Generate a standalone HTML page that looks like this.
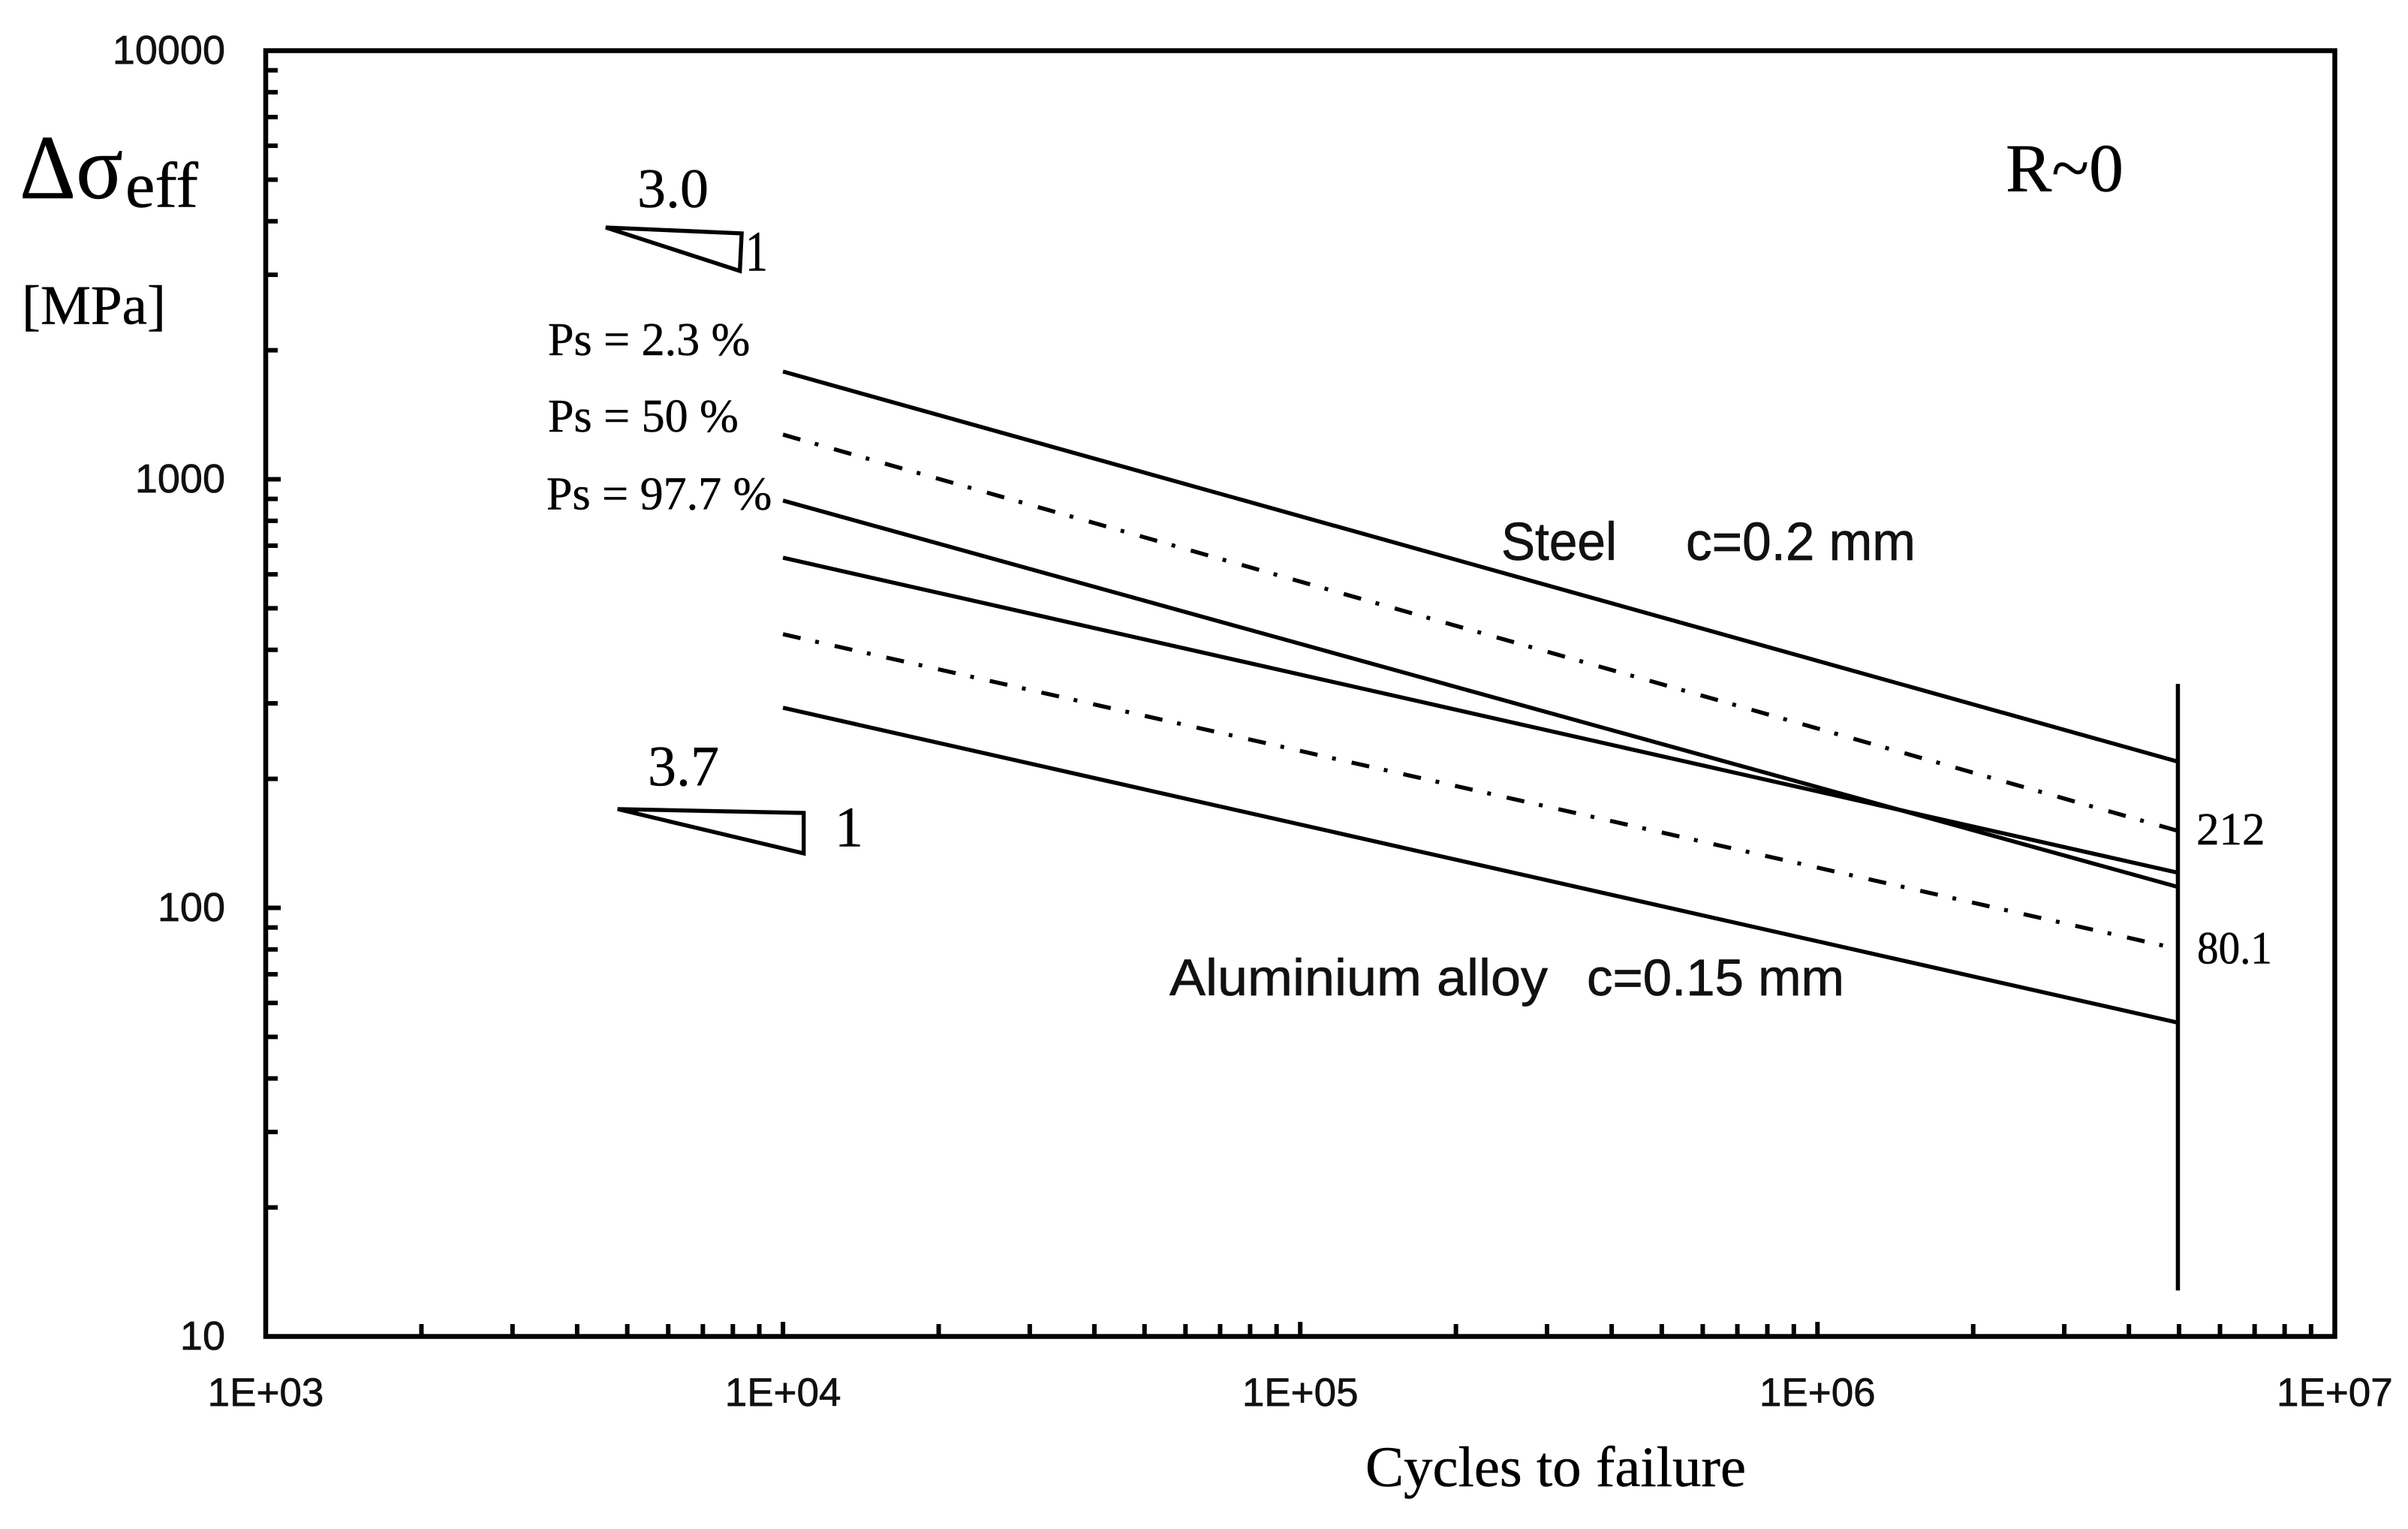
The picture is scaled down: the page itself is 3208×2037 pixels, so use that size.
<!DOCTYPE html>
<html lang="en">
<head>
<meta charset="utf-8">
<title>S-N curves: effective stress range vs cycles to failure</title>
<style>
  html, body { margin: 0; padding: 0; background: #fff; }
  svg { display: block; }
  .sans { font-family: "Liberation Sans", sans-serif; fill: #111; stroke: #111; stroke-width: 0.7px; }
  .serif { font-family: "Liberation Serif", serif; fill: #000; stroke: #000; stroke-width: 0.5px; }
</style>
</head>
<body>
<svg id="chart" xmlns="http://www.w3.org/2000/svg" width="3208" height="2037" viewBox="0 0 3208 2037">
  <rect x="0" y="0" width="3208" height="2037" fill="#fff"/>
  <g id="marks"></g>
  <g id="ticks"></g>
  <rect x="354" y="67.5" width="2756.5" height="1713" fill="none" stroke="#000" stroke-width="6.5"/>
  <g id="labels"></g>

  <text class="serif" x="26" y="264" font-size="122" textLength="138" lengthAdjust="spacingAndGlyphs">Δσ</text>
  <text class="serif" x="167" y="275.5" font-size="86" textLength="97" lengthAdjust="spacingAndGlyphs">eff</text>
  <text class="serif" x="29" y="431.5" font-size="74" textLength="192" lengthAdjust="spacingAndGlyphs">[MPa]</text>
  <text class="serif" x="1819" y="1980" font-size="76" textLength="507" lengthAdjust="spacingAndGlyphs">Cycles to failure</text>
  <text class="serif" x="2672" y="254.5" font-size="91" textLength="157" lengthAdjust="spacingAndGlyphs">R~0</text>

  <text class="serif" x="849" y="276" font-size="74" textLength="95" lengthAdjust="spacingAndGlyphs">3.0</text>
  <text class="serif" x="993" y="360.5" font-size="76" textLength="30" lengthAdjust="spacingAndGlyphs">1</text>
  <text class="serif" x="863" y="1046.5" font-size="76" textLength="95" lengthAdjust="spacingAndGlyphs">3.7</text>
  <text class="serif" x="1112" y="1127.5" font-size="76">1</text>

  <text class="serif" x="730" y="473" font-size="62">Ps = 2.3 %</text>
  <text class="serif" x="730" y="575" font-size="62">Ps = 50 %</text>
  <text class="serif" x="728" y="678.5" font-size="62">Ps = 97.7 %</text>

  <text class="serif" x="2926" y="1125" font-size="61">212</text>
  <text class="serif" x="2927" y="1283.5" font-size="61" textLength="100" lengthAdjust="spacingAndGlyphs">80.1</text>

  <text class="sans" x="2000" y="746" font-size="71" textLength="154" lengthAdjust="spacingAndGlyphs">Steel</text>
  <text class="sans" x="2246" y="746" font-size="71" textLength="306" lengthAdjust="spacingAndGlyphs">c=0.2 mm</text>
  <text class="sans" x="1558" y="1326" font-size="69" textLength="504" lengthAdjust="spacingAndGlyphs">Aluminium alloy</text>
  <text class="sans" x="2114" y="1326" font-size="69" textLength="343" lengthAdjust="spacingAndGlyphs">c=0.15 mm</text>
</svg>

<script>
const cycleRange = [10000, 5000000];
const steelPs2 = [1784, 219];
const steelPs50 = [1271, 151];
const steelPs98 = [892, 111.7];
const alloyPs2 = [656, 120.6];
const alloyPs50 = [435, 80.1];
const alloyPs98 = [293, 53.9];
const limitLineCycles = [5000000, 5000000];
const limitLineStress = [333, 12.8];
const steelTriangleCycles = [4544, 8320, 8253];
const steelTriangleStress = [3868, 3747, 3062];
const alloyTriangleCycles = [4790, 10966, 10966];
const alloyTriangleStress = [170, 166.5, 134];
const xDecades = [1000, 10000, 100000, 1000000, 10000000];
const xTickLabels = ['1E+03', '1E+04', '1E+05', '1E+06', '1E+07'];
const yDecades = [10, 100, 1000, 10000];
const yTickLabels = ['10', '100', '1000', '10000'];
const minorMultiples = [2, 3, 4, 5, 6, 7, 8, 9];

const NS = 'http://www.w3.org/2000/svg';
const xScale = function (v) { return 354 + (Math.log10(v) - 3) * 689.1; };
const yScale = function (v) { return 1780.5 - (Math.log10(v) - 1) * 571; };

const marks = document.getElementById('marks');
const ticks = document.getElementById('ticks');
const labels = document.getElementById('labels');

function drawSeries(name, values, dashed) {
  const el = document.createElementNS(NS, 'line');
  
  
  el.setAttribute('x1', xScale(cycleRange[0]));
  el.setAttribute('y1', yScale(values[0]));
  el.setAttribute('x2', xScale(cycleRange[1]));
  el.setAttribute('y2', yScale(values[1]));
  el.setAttribute('stroke', '#000');
  el.setAttribute('stroke-width', '5.4');
  if (dashed) { el.setAttribute('stroke-dasharray', '24 20 5 21.6'); }
  marks.appendChild(el);
}

drawSeries('steel-ps-2-3-line', steelPs2, false);
drawSeries('steel-ps-50-line', steelPs50, true);
drawSeries('steel-ps-97-7-line', steelPs98, false);
drawSeries('aluminium-ps-2-3-line', alloyPs2, false);
drawSeries('aluminium-ps-50-line', alloyPs50, true);
drawSeries('aluminium-ps-97-7-line', alloyPs98, false);

const limitLine = document.createElementNS(NS, 'line');


limitLine.setAttribute('x1', xScale(limitLineCycles[0]) - 1.5);
limitLine.setAttribute('y1', yScale(limitLineStress[0]));
limitLine.setAttribute('x2', xScale(limitLineCycles[1]) - 1.5);
limitLine.setAttribute('y2', yScale(limitLineStress[1]));
limitLine.setAttribute('stroke', '#000');
limitLine.setAttribute('stroke-width', '5.5');
marks.appendChild(limitLine);

function drawTriangle(name, cycles, stress) {
  const el = document.createElementNS(NS, 'polygon');
  
  
  const pts = cycles.map(function (c, i) { return xScale(c) + ',' + yScale(stress[i]); });
  el.setAttribute('points', pts.join(' '));
  el.setAttribute('fill', 'none');
  el.setAttribute('stroke', '#000');
  el.setAttribute('stroke-width', '5.4');
  el.setAttribute('stroke-linejoin', 'miter');
  el.setAttribute('stroke-miterlimit', '2');
  marks.appendChild(el);
}

drawTriangle('steel-slope-triangle', steelTriangleCycles, steelTriangleStress);
drawTriangle('aluminium-slope-triangle', alloyTriangleCycles, alloyTriangleStress);

function drawXTick(value, length) {
  const el = document.createElementNS(NS, 'line');
  
  
  el.setAttribute('x1', xScale(value));
  el.setAttribute('x2', xScale(value));
  el.setAttribute('y1', 1780.5);
  el.setAttribute('y2', 1780.5 - length);
  el.setAttribute('stroke', '#000');
  el.setAttribute('stroke-width', '6');
  ticks.appendChild(el);
}

function drawYTick(value, length) {
  const el = document.createElementNS(NS, 'line');
  
  
  el.setAttribute('x1', 354);
  el.setAttribute('x2', 354 + length);
  el.setAttribute('y1', yScale(value));
  el.setAttribute('y2', yScale(value));
  el.setAttribute('stroke', '#000');
  el.setAttribute('stroke-width', '6');
  ticks.appendChild(el);
}

xDecades.forEach(function (d, i) {
  if (i > 0 && i < xDecades.length - 1) { drawXTick(d, 19.5); }
  if (i < xDecades.length - 1) {
    minorMultiples.forEach(function (m) { drawXTick(d * m, 16.5); });
  }
  const el = document.createElementNS(NS, 'text');
  
  
  el.setAttribute('class', 'sans');
  el.setAttribute('x', xScale(d));
  el.setAttribute('y', 1873);
  el.setAttribute('font-size', '53');
  el.setAttribute('text-anchor', 'middle');
  el.textContent = xTickLabels[i];
  labels.appendChild(el);
});

yDecades.forEach(function (d, i) {
  if (i > 0 && i < yDecades.length - 1) { drawYTick(d, 20); }
  if (i < yDecades.length - 1) {
    minorMultiples.forEach(function (m) { drawYTick(d * m, 16); });
  }
  const el = document.createElementNS(NS, 'text');
  
  
  el.setAttribute('class', 'sans');
  el.setAttribute('x', 300);
  el.setAttribute('y', yScale(d) + 17.3);
  el.setAttribute('font-size', '54');
  el.setAttribute('text-anchor', 'end');
  el.textContent = yTickLabels[i];
  labels.appendChild(el);
});
</script>
</body>
</html>
